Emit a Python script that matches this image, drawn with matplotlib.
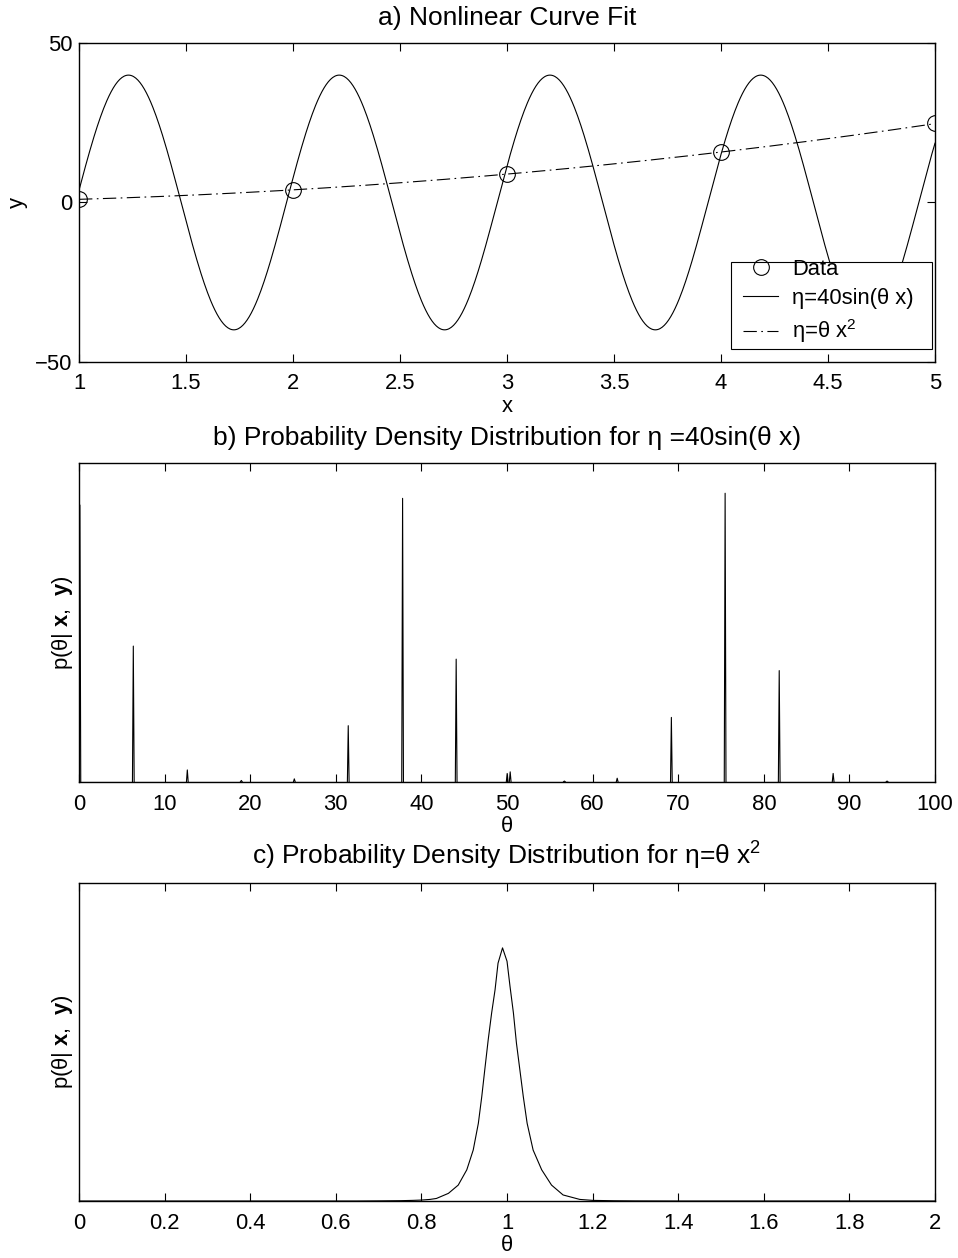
import numpy as np
import matplotlib
matplotlib.use('Agg')
import matplotlib.pyplot as plt
from matplotlib.patches import Rectangle

plt.rcParams['font.family'] = ['Liberation Sans', 'DejaVu Sans']
plt.rcParams['font.size'] = 15.8
plt.rcParams['mathtext.fontset'] = 'custom'
plt.rcParams['mathtext.rm'] = 'Liberation Sans'
plt.rcParams['mathtext.it'] = 'Liberation Sans:italic'
plt.rcParams['mathtext.bf'] = 'Liberation Sans:bold'
plt.rcParams['axes.linewidth'] = 1.0

# measured data and fitted parameters
x_data = [1, 2, 3, 4, 5]
y_data = [1, 4, 9, 16, 25]
amp = 40.0
theta_sin = 6.38      # fit for eta = 40 sin(theta x)
theta_quad = 0.99     # fit for eta = theta x^2

# posterior for the sine model: narrow peaks (position, relative height)
peak_theta = [0.1, 6.34, 12.65, 18.96, 25.15, 31.45, 37.80, 44.06, 50.02, 50.37,
              56.70, 62.87, 69.20, 75.48, 81.80, 88.10, 94.40]
peak_height = [0.869, 0.426, 0.037, 0.004, 0.009, 0.176, 0.890, 0.385, 0.026, 0.031,
               0.002, 0.011, 0.202, 0.906, 0.349, 0.026, 0.002]
peak_halfwidth = 0.1

# posterior for the quadratic model
theta_c = [0.0, 0.65, 0.70, 0.75, 0.78, 0.80, 0.820, 0.835, 0.863, 0.886, 0.906,
           0.921, 0.933, 0.941, 0.948, 0.956, 0.964, 0.972, 0.979, 0.9895,
           1.000, 1.007, 1.015, 1.022, 1.030, 1.038, 1.047, 1.061, 1.081, 1.104,
           1.131, 1.170, 1.20, 1.25, 1.30, 1.40, 2.0]
p_c = [0.0, 0.0, 0.0004, 0.001, 0.002, 0.003, 0.005, 0.008, 0.024, 0.050, 0.098,
       0.160, 0.244, 0.328, 0.412, 0.506, 0.590, 0.663, 0.747, 0.795,
       0.753, 0.674, 0.590, 0.496, 0.412, 0.328, 0.244, 0.160, 0.098, 0.050,
       0.019, 0.005, 0.002, 0.0008, 0.0003, 0.0, 0.0]

fig = plt.figure(figsize=(9.58, 12.58), dpi=100)
left, width, height = 0.0825, 0.8935, 0.2531
ax1 = fig.add_axes([left, 0.7125, width, height])
ax2 = fig.add_axes([left, 0.3786, width, height])
ax3 = fig.add_axes([left, 0.0453, width, height])

for ax in (ax1, ax2, ax3):
    ax.tick_params(direction='in', top=True, right=True, length=5.8, width=0.8)
    ax.tick_params(axis='x', pad=8.5)
    ax.tick_params(axis='y', pad=5)

#a) curve fit
x_fine = np.linspace(1, 5, 801)
ax1.plot(x_data, y_data, 'o', mfc='none', mec='k', ms=11.3, mew=0.8, label='Data')
ax1.plot(x_fine, amp*np.sin(theta_sin*x_fine), 'k-', lw=0.8, label='η=40sin(θ x)')
ax1.plot(x_fine, theta_quad*x_fine**2, 'k', lw=0.8, ls=(0, (12, 4, 1.5, 4)),
         label='η=θ x$^2$')
ax1.set_xlim(1, 5)
ax1.set_ylim(-50, 50)
ax1.set_xticks([1, 1.5, 2, 2.5, 3, 3.5, 4, 4.5, 5])
ax1.set_xticklabels(['1', '1.5', '2', '2.5', '3', '3.5', '4', '4.5', '5'])
ax1.set_yticks([-50, 0, 50])
ax1.set_xlabel('x', labelpad=1)
ax1.set_ylabel('y')
ax1.yaxis.set_label_coords(-0.0596, 0.5)
ax1.set_title('a) Nonlinear Curve Fit', pad=13)

# legend box drawn separately so the entries can sit tight against its top edge
box = Rectangle((0.7617, 0.040), 0.2348, 0.273, transform=ax1.transAxes,
                facecolor='white', edgecolor='k', lw=0.8, zorder=4.5)
ax1.add_patch(box)
ax1.legend(loc='upper left', bbox_to_anchor=(0.7757, 0.323), borderaxespad=0,
           frameon=False, labelspacing=0.38, borderpad=0, handlelength=1.6,
           handletextpad=0.64)

#b) sine model posterior
ax2.plot([0, 100], [0, 0], 'k-', lw=0.8)
for c, h in zip(peak_theta, peak_height):
    ax2.plot([c - peak_halfwidth, c, c + peak_halfwidth], [0, h, 0], 'k-', lw=0.8)
ax2.set_xlim(0, 100)
ax2.set_ylim(0, 1)
ax2.set_xticks(range(0, 101, 10))
ax2.set_yticks([])
ax2.set_xlabel('θ', labelpad=1)
ax2.set_ylabel(r'p(θ| $\mathbf{x}$,  $\mathbf{y}$)')
ax2.yaxis.set_label_coords(-0.0047, 0.5)
ax2.set_title('b) Probability Density Distribution for η =40sin(θ x)', pad=13)

#c) quadratic model posterior
ax3.plot(theta_c, p_c, 'k-', lw=0.8)
ax3.set_xlim(0, 2)
ax3.set_ylim(0, 1)
ax3.set_xticks([0, 0.2, 0.4, 0.6, 0.8, 1, 1.2, 1.4, 1.6, 1.8, 2])
ax3.set_xticklabels(['0', '0.2', '0.4', '0.6', '0.8', '1', '1.2', '1.4', '1.6', '1.8', '2'])
ax3.set_yticks([])
ax3.set_xlabel('θ', labelpad=1)
ax3.set_ylabel(r'p(θ| $\mathbf{x}$,  $\mathbf{y}$)')
ax3.yaxis.set_label_coords(-0.0047, 0.5)
ax3.set_title('c) Probability Density Distribution for η=θ x$^2$', pad=13)

plt.savefig('out.png', dpi=100)
